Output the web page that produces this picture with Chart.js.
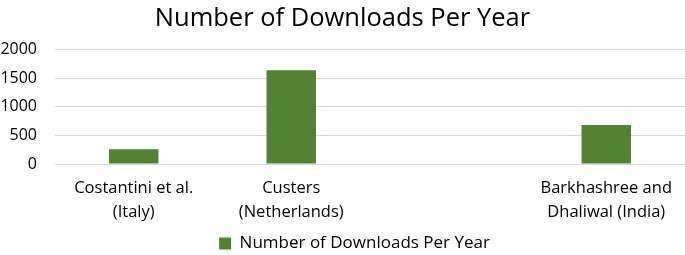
<!DOCTYPE html>
<html>
<head>
<meta charset="utf-8">
<script src="https://cdn.jsdelivr.net/npm/chart.js@4/dist/chart.umd.min.js"></script>
<style>
  html, body { margin: 0; padding: 0; background: #fff; }
  #wrap { width: 685px; height: 255px; }
</style>
</head>
<body>
<div id="wrap"><canvas id="c"></canvas></div>
<script>
(function(){

    "use strict"

    // chart data
    const categories = [["Costantini et al.", "(Italy)"], ["Custers", "(Netherlands)"], "", ["Barkhashree and", "Dhaliwal (India)"]];
    const downloads = [260, 1640, null, 680];
    const seriesName = "Number of Downloads Per Year";
    const yTicks = [0, 500, 1000, 1500, 2000];

    const font = "'Open Sans', 'Noto Sans', sans-serif";

    // nudge the legend down and right a little, like the original
    const legendShift = {
        id: 'legendShift',
        afterLayout: function(chart) {
            chart.legend.top += 7;
            chart.legend.bottom += 7;
            chart.legend.left += 12;
            chart.legend.right += 12;
        }
    };

    new Chart(document.getElementById("c"), {
        type: 'bar',
        data: {
            labels: categories,
            datasets: [{
                label: seriesName,
                data: downloads,
                backgroundColor: '#548235',
                borderWidth: 0,
                categoryPercentage: 1,
                barPercentage: 0.314
            }]
        },
        plugins: [legendShift],
        options: {
            responsive: true,
            maintainAspectRatio: false,
            animation: false,
            layout: { padding: { left: 0, right: 0, top: 0, bottom: 0 } },
            plugins: {
                title: {
                    display: true,
                    text: seriesName,
                    color: '#000',
                    font: { family: font, size: 25.5, weight: 'normal', lineHeight: 1.2 },
                    padding: { top: 3, bottom: 16 }
                },
                legend: {
                    position: 'bottom',
                    labels: {
                        color: '#000',
                        font: { family: font, size: 17 },
                        boxWidth: 12,
                        boxHeight: 12,
                        padding: 0
                    }
                },
                tooltip: { enabled: false }
            },
            scales: {
                x: {
                    grid: { display: false },
                    border: { display: false },
                    afterFit: function(axis) { axis.height = 64; },
                    ticks: {
                        color: '#000',
                        font: { family: font, size: 16.5, lineHeight: 1.45 },
                        maxRotation: 0,
                        autoSkip: false,
                        padding: 4
                    }
                },
                y: {
                    min: 0,
                    max: 2000,
                    afterBuildTicks: function(axis) {
                        axis.ticks = yTicks.map(v => ({ value: v }));
                    },
                    afterFit: function(axis) { axis.width = 55; },
                    grid: { color: '#d9d9d9', lineWidth: 1, drawTicks: false },
                    border: { display: false },
                    ticks: {
                        color: '#000',
                        font: { family: font, size: 16 },
                        padding: 18,
                        callback: function(v) { return String(v); }
                    }
                }
            }
        }
    });

}());
</script>
</body>
</html>
